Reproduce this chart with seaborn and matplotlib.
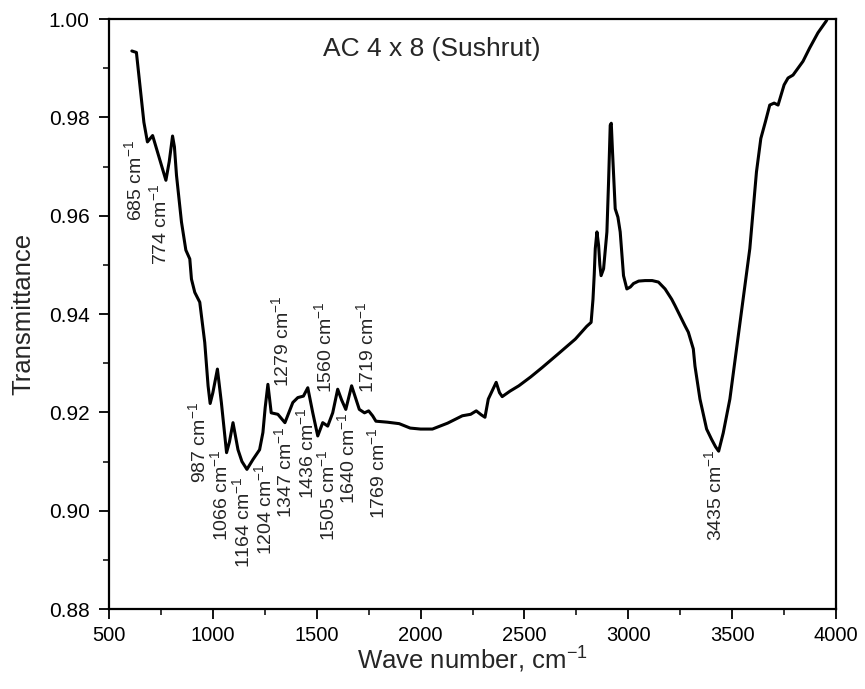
import numpy as np
import pandas as pd
import matplotlib
matplotlib.use("Agg")
import matplotlib.pyplot as plt
from matplotlib.ticker import MultipleLocator, FormatStrFormatter
import seaborn as sns

# FTIR spectrum of activated carbon sample AC 4 x 8 (Sushrut)
wavenumber = [
    610, 632, 650, 668, 685, 710, 740, 774, 790, 806, 815, 825, 849, 870,
    889, 897, 913, 937, 961, 977, 987, 1000, 1022, 1041, 1066, 1080, 1097,
    1121, 1140, 1164, 1193, 1225, 1241, 1252, 1265, 1281, 1313, 1347, 1385,
    1409, 1436, 1457, 1481, 1505, 1529, 1553, 1577, 1601, 1620, 1640, 1668,
    1705, 1730, 1750, 1769, 1785, 1840, 1897, 1950, 2000, 2057, 2130, 2201,
    2241, 2268, 2292, 2310, 2326, 2364, 2380, 2393, 2430, 2473, 2530, 2585,
    2660, 2745, 2800, 2821, 2830, 2836, 2841, 2849, 2857, 2863, 2869, 2881,
    2897, 2905, 2913, 2918, 2924, 2937, 2950, 2961, 2977, 2993, 3010, 3025,
    3050, 3081, 3115, 3145, 3177, 3209, 3225, 3273, 3289, 3313, 3321, 3345,
    3377, 3401, 3420, 3435, 3457, 3489, 3521, 3553, 3585, 3617, 3638, 3660,
    3681, 3702, 3721, 3750, 3769, 3793, 3841, 3873, 3913, 3953, 3990,
]
transmittance = [
    0.9935, 0.9932, 0.9860, 0.9790, 0.9750, 0.9763, 0.9720, 0.9672, 0.9710,
    0.9762, 0.9740, 0.9682, 0.9587, 0.9530, 0.9512, 0.9471, 0.9444, 0.9424,
    0.9342, 0.9254, 0.9218, 0.9240, 0.9288, 0.9220, 0.9118, 0.9140, 0.9179,
    0.9124, 0.9100, 0.9084, 0.9104, 0.9124, 0.9159, 0.9210, 0.9257, 0.9199,
    0.9196, 0.9179, 0.9220, 0.9230, 0.9233, 0.9250, 0.9199, 0.9152, 0.9179,
    0.9172, 0.9199, 0.9247, 0.9225, 0.9206, 0.9254, 0.9206, 0.9199, 0.9203,
    0.9193, 0.9182, 0.9180, 0.9177, 0.9168, 0.9166, 0.9166, 0.9178, 0.9193,
    0.9196, 0.9203, 0.9195, 0.9190, 0.9227, 0.9261, 0.9240, 0.9232, 0.9243,
    0.9254, 0.9272, 0.9291, 0.9318, 0.9349, 0.9375, 0.9383, 0.9430, 0.9480,
    0.9533, 0.9567, 0.9540, 0.9500, 0.9478, 0.9492, 0.9567, 0.9669, 0.9784,
    0.9788, 0.9730, 0.9614, 0.9597, 0.9567, 0.9478, 0.9451, 0.9455, 0.9462,
    0.9467, 0.9468, 0.9468, 0.9465, 0.9451, 0.9430, 0.9417, 0.9376, 0.9363,
    0.9329, 0.9294, 0.9227, 0.9166, 0.9145, 0.9130, 0.9121, 0.9158, 0.9227,
    0.9329, 0.9430, 0.9533, 0.9689, 0.9757, 0.9791, 0.9825, 0.9829, 0.9825,
    0.9866, 0.9880, 0.9886, 0.9914, 0.9941, 0.9972, 0.9996, 1.0030,
]

# Assigned band positions (cm-1)
band_positions = [685, 774, 987, 1066, 1164, 1204, 1279, 1347, 1436,
                  1505, 1560, 1640, 1719, 1769, 3435]

x_ticks = [500, 1000, 1500, 2000, 2500, 3000, 3500, 4000]
y_ticks = [0.88, 0.90, 0.92, 0.94, 0.96, 0.98, 1.00]

# Placement of each band label: (shift along x, upper end of the text)
label_layout = [(-60, 0.9754), (-29, 0.9665), (-57, 0.9222), (-28, 0.9125),
                (-18, 0.9070), (46, 0.9097), (52, 0.9438), (0, 0.9172),
                (14, 0.9210), (46, 0.9125), (-21, 0.9427), (9, 0.9201),
                (21, 0.9427), (26, 0.9169), (-20, 0.9125)]

sns.set_theme(style="ticks")
plt.rcParams["font.family"] = ["Liberation Sans", "DejaVu Sans"]
plt.rcParams["mathtext.fontset"] = "custom"
plt.rcParams["mathtext.rm"] = "Liberation Sans"

df = pd.DataFrame({"Wave number": wavenumber, "Transmittance": transmittance})

fig = plt.figure(figsize=(8.65, 6.89), dpi=100)
ax = fig.add_axes([0.126, 0.1161, 0.8405, 0.8563])

sns.lineplot(data=df, x="Wave number", y="Transmittance", ax=ax,
             color="black", linewidth=2.2, sort=False, estimator=None)

ax.set_xlim(500, 4000)
ax.set_ylim(0.88, 1.00)
ax.set_xticks(x_ticks)
ax.set_yticks(y_ticks)
ax.yaxis.set_major_formatter(FormatStrFormatter("%.2f"))
ax.xaxis.set_minor_locator(MultipleLocator(250))
ax.yaxis.set_minor_locator(MultipleLocator(0.01))
ax.tick_params(axis="both", which="major", direction="out", length=7,
               width=1.3, colors="black", top=False, right=False)
ax.tick_params(axis="x", which="major", labelsize=14.5, pad=5)
ax.tick_params(axis="y", which="major", labelsize=15, pad=7)
ax.tick_params(axis="both", which="minor", direction="out", length=4,
               width=1.3, top=False, right=False)
for side in ax.spines.values():
    side.set_linewidth(1.6)
    side.set_color("black")

ax.set_xlabel("Wave number, cm$^{-1}$", fontsize=18.5)
ax.set_ylabel("Transmittance", fontsize=18.5)
ax.xaxis.set_label_coords(0.5, -0.058)
ax.yaxis.set_label_coords(-0.101, 0.5)

ax.text(2054, 0.9939, "AC 4 x 8 (Sushrut)", ha="center", va="center",
        fontsize=19)

for wn, (dx, y_top) in zip(band_positions, label_layout):
    ax.text(wn + dx, y_top, f"{wn} cm$^{{-1}}$", rotation=90,
            rotation_mode="anchor", ha="right", va="center", fontsize=14)

fig.savefig("out.png", dpi=100, facecolor="white")
